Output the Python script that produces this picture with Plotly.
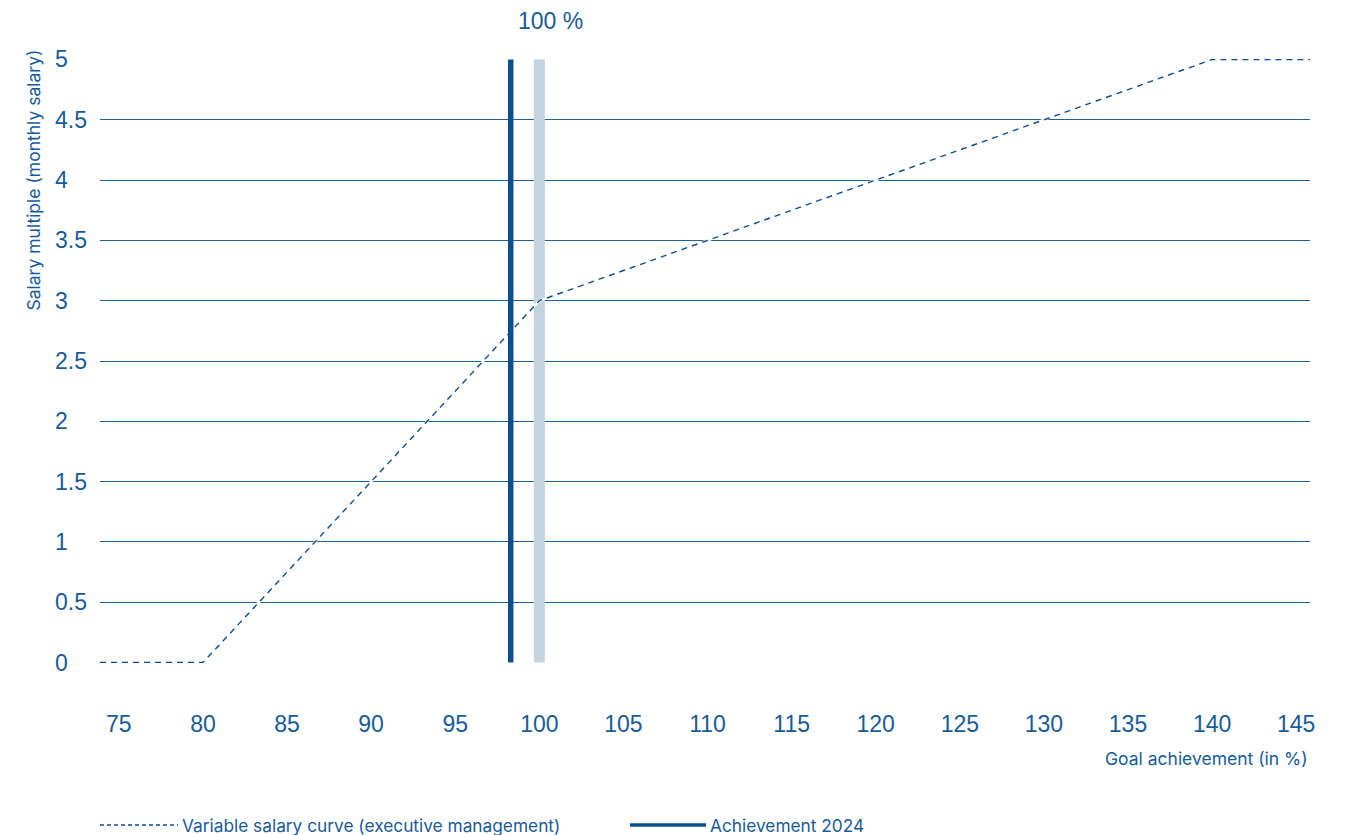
import plotly.graph_objects as go

# Variable salary curve: goal achievement (%) -> salary multiple (monthly salaries)
curve_x = [73.88, 80, 100, 140, 145.82]
curve_y = [0, 0, 3, 5, 5]

target_x = 100          # 100 % target
achievement_x = 98.3    # achievement 2024

y_ticks = [0, 0.5, 1, 1.5, 2, 2.5, 3, 3.5, 4, 4.5, 5]
y_tick_labels = ["0", "0.5", "1", "1.5", "2", "2.5", "3", "3.5", "4", "4.5", "5"]
x_ticks = list(range(75, 150, 5))
x_tick_labels = [str(v) for v in x_ticks]

x_range = [73.88, 145.82]
y_range = [-0.004, 5.004]

BLUE = "#175b9b"
DARK = "#0b4f90"
GRID = "#235f97"
BAND = "#c3d3e0"
TICK_FONT = "Liberation Sans"
TEXT_FONT = "Inter"

fig = go.Figure()

# target band at 100 %
fig.add_trace(go.Scatter(x=[target_x, target_x], y=[0, 5], mode="lines",
                         line=dict(color=BAND, width=11), showlegend=False,
                         hoverinfo="skip"))
# white underlay so the curve hides the gridlines it runs along
fig.add_trace(go.Scatter(x=curve_x, y=curve_y, mode="lines",
                         line=dict(color="white", width=2.5), showlegend=False,
                         hoverinfo="skip"))
fig.add_trace(go.Scatter(x=curve_x, y=curve_y, mode="lines",
                         line=dict(color=DARK, width=1.4, dash="6px,5px"),
                         showlegend=False))
fig.add_trace(go.Scatter(x=[achievement_x, achievement_x], y=[0, 5], mode="lines",
                         line=dict(color=DARK, width=5.5), showlegend=False))

fig.update_xaxes(range=x_range, tickvals=x_ticks, ticktext=x_tick_labels,
                 showgrid=False, zeroline=False, showline=False,
                 ticks="outside", ticklen=0, ticklabelstandoff=40,
                 tickfont=dict(family=TICK_FONT, size=23, color=BLUE))
fig.update_yaxes(range=y_range, tickvals=y_ticks, showticklabels=False,
                 showgrid=True, gridcolor=GRID, gridwidth=1,
                 zeroline=False, showline=False)

annotations = []
# y tick labels, left aligned
for v, t in zip(y_ticks, y_tick_labels):
    annotations.append(dict(x=0, y=v, xref="paper", yref="y", text=t,
                            xanchor="left", yanchor="middle", xshift=-47,
                            showarrow=False,
                            font=dict(family=TICK_FONT, size=23, color=BLUE)))
annotations += [
    dict(x=target_x, y=1, xref="x", yref="paper", text="100 %",
         xanchor="center", yanchor="middle", xshift=11, yshift=38,
         showarrow=False, font=dict(family=TICK_FONT, size=23, color=BLUE)),
    dict(x=1, y=0, xref="paper", yref="paper", text="Goal achievement (in %)",
         xanchor="right", yanchor="middle", yshift=-95, showarrow=False,
         font=dict(family=TEXT_FONT, size=17.5, color=BLUE)),
    dict(x=0, y=1, xref="paper", yref="paper",
         text="Salary multiple (monthly salary)", textangle=-90,
         xanchor="center", yanchor="top", xshift=-67, yshift=11,
         showarrow=False, font=dict(family=TEXT_FONT, size=17.5, color=BLUE)),
    dict(x=0, y=0, xref="paper", yref="paper",
         text="Variable salary curve (executive management)",
         xanchor="left", yanchor="middle", xshift=80, yshift=-162,
         showarrow=False, font=dict(family=TEXT_FONT, size=17.3, color=BLUE)),
    dict(x=0, y=0, xref="paper", yref="paper", text="Achievement 2024",
         xanchor="left", yanchor="middle", xshift=608, yshift=-162,
         showarrow=False, font=dict(family=TEXT_FONT, size=17.3, color=BLUE)),
]

# legend samples (plot area spans 1210 px wide, 604 px tall)
PW, PH = 1210, 604
leg_y = -162 / PH
shapes = [
    dict(type="line", xref="paper", yref="paper", x0=0, x1=78 / PW,
         y0=leg_y, y1=leg_y, line=dict(color=DARK, width=1.3, dash="4px,3px")),
    dict(type="line", xref="paper", yref="paper", x0=530 / PW, x1=606 / PW,
         y0=leg_y, y1=leg_y, line=dict(color=DARK, width=3.5)),
]

fig.update_layout(width=1348, height=835,
                  margin=dict(l=100, r=38, t=59, b=172),
                  paper_bgcolor="white", plot_bgcolor="white",
                  annotations=annotations, shapes=shapes, showlegend=False)

fig.write_html("out.html")
